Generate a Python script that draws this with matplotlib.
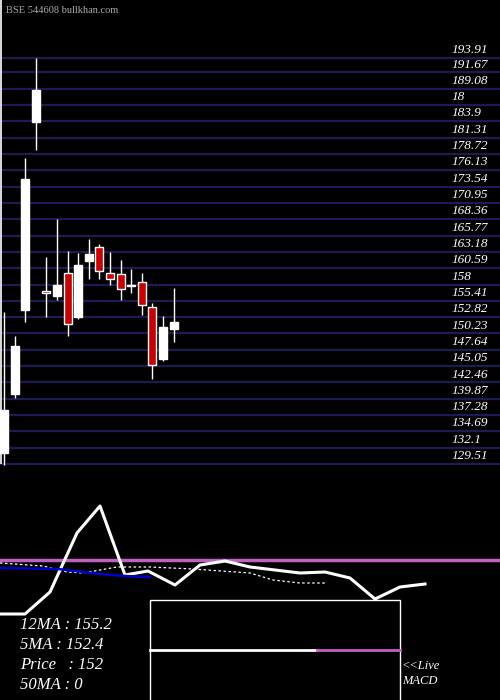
import matplotlib
matplotlib.use("Agg")
import matplotlib.pyplot as plt

# Candle data (index order)
opens  = [131.25, 140.7, 154.0, 183.8, 157.0, 156.25, 159.9, 152.77, 161.8, 164.0, 159.9, 159.73, 157.8, 158.46, 154.5, 146.1, 151.0]
closes = [138.05, 148.3, 174.8, 188.8, 156.6, 157.99, 151.66, 161.15, 162.9, 160.2, 158.8, 157.36, 157.8, 154.67, 145.3, 151.2, 151.98]
highs  = [153.6, 149.9, 178.1, 193.9, 162.3, 168.4, 163.37, 163.05, 165.27, 164.5, 163.2, 161.95, 160.4, 159.9, 155.0, 152.93, 157.5]
lows   = [129.35, 139.95, 152.1, 179.35, 152.8, 155.5, 149.76, 152.6, 158.8, 158.9, 158.0, 155.6, 156.6, 153.2, 142.96, 145.9, 148.8]
price_levels = [193.91, 191.67, 189.08, 186.49, 183.9, 181.31, 178.72, 176.13, 173.54, 170.95, 168.36, 165.77,
                163.18, 160.59, 158.0, 155.41, 152.82, 150.23, 147.64, 145.05, 142.46, 139.87, 137.28, 134.69, 132.1, 129.51]
price_labels = ["193.91", "191.67", "189.08", "18", "183.9", "181.31", "178.72", "176.13", "173.54", "170.95", "168.36",
                "165.77", "163.18", "160.59", "158", "155.41", "152.82", "150.23", "147.64", "145.05", "142.46", "139.87",
                "137.28", "134.69", "132.1", "129.51"]

# Lower panel series (x in panel units, y in panel units)
macd_x = [0, 25, 50, 77, 100, 125, 148, 175, 200, 225, 250, 300, 325, 350, 375, 400, 425]
macd_y = [6, 6, 28, 87, 114, 45, 49, 35, 55, 59, 53, 47, 48, 42, 21, 33, 36]
sig_x = [0, 43, 67, 83, 100, 117, 150, 193, 250, 273, 300, 325]
sig_y = [57, 54, 48, 47, 50, 53, 53, 51, 47, 40, 37, 37]
blue_x = [0, 58, 100, 125, 150]
blue_y = [52, 51, 46, 44, 43]
hist_level = -30
hist_x = [150, 317, 400]

fig = plt.figure(figsize=(5, 7), dpi=100)
fig.patch.set_facecolor("black")

ax = fig.add_axes([0, 0, 1, 1])
ax.set_facecolor("black")
ax.set_xlim(-0.38, 46.8)
ppu = 6.3
ax.set_ylim(129.51 - (700 - 464) / ppu, 129.51 + 464 / ppu)
ax.axis("off")
for lv, lb in zip(price_levels, price_labels):
    ax.axhline(lv, color="#1c1c52", lw=1.6, zorder=1)
    ax.text(42.2, lv + 0.3, lb, color="white", fontsize=9.5, family="Liberation Serif",
            style="italic", va="bottom", ha="left", zorder=3)
for i, (o, c, h, l) in enumerate(zip(opens, closes, highs, lows)):
    x = i * 1.0
    ax.vlines(x, l, h, color="white", lw=1, zorder=2)
    up = c >= o
    body = abs(c - o) if abs(c - o) > 0.15 else 0.15
    ax.bar(x, body, bottom=min(o, c), width=0.75,
           color="white" if up else "#cc0000", edgecolor="white", lw=1, zorder=3)
ax.vlines(-0.28, 129.51, 129.51 + 464 / ppu, color="white", lw=1.2, zorder=4)
ax.text(0.2, 129.51 + 458 / ppu, "BSE 544608 bullkhan.com", color="#aaaaaa", fontsize=7.5,
        family="Liberation Serif", va="top")

ax2 = fig.add_axes([0, 0, 1, 1])
ax2.set_xlim(0, 500)
ax2.set_ylim(700, 0)
ax2.patch.set_alpha(0)
ax2.axis("off")
def py(v):
    return 620 - v
ax2.axhline(560, color="#c060c0", lw=2.5)
ax2.plot(macd_x, [py(v) for v in macd_y], color="white", lw=2.2)
ax2.plot(sig_x, [py(v) for v in sig_y], color="white", lw=0.9, ls=(0, (2, 2)))
ax2.plot(blue_x, [py(v) for v in blue_y], color="#0000cc", lw=1.8)
ax2.add_patch(plt.Rectangle((150, 600), 250, 105, fill=False, ec="white", lw=1))
ax2.plot(hist_x[:2], [py(hist_level)] * 2, color="white", lw=2)
ax2.plot(hist_x[1:], [py(hist_level)] * 2, color="#c060c0", lw=2)
for t, yy in [("12MA : 155.2", 625), ("5MA : 152.4", 645), ("Price   : 152", 665), ("50MA : 0", 685)]:
    ax2.text(20, yy, t, color="white", fontsize=12, family="Liberation Serif", style="italic", va="center")
ax2.text(402, 666, "<<Live", color="white", fontsize=9, family="Liberation Serif", style="italic", va="center")
ax2.text(402, 681, "MACD", color="white", fontsize=9, family="Liberation Serif", style="italic", va="center")

fig.savefig("out.png", dpi=100, facecolor="black")
